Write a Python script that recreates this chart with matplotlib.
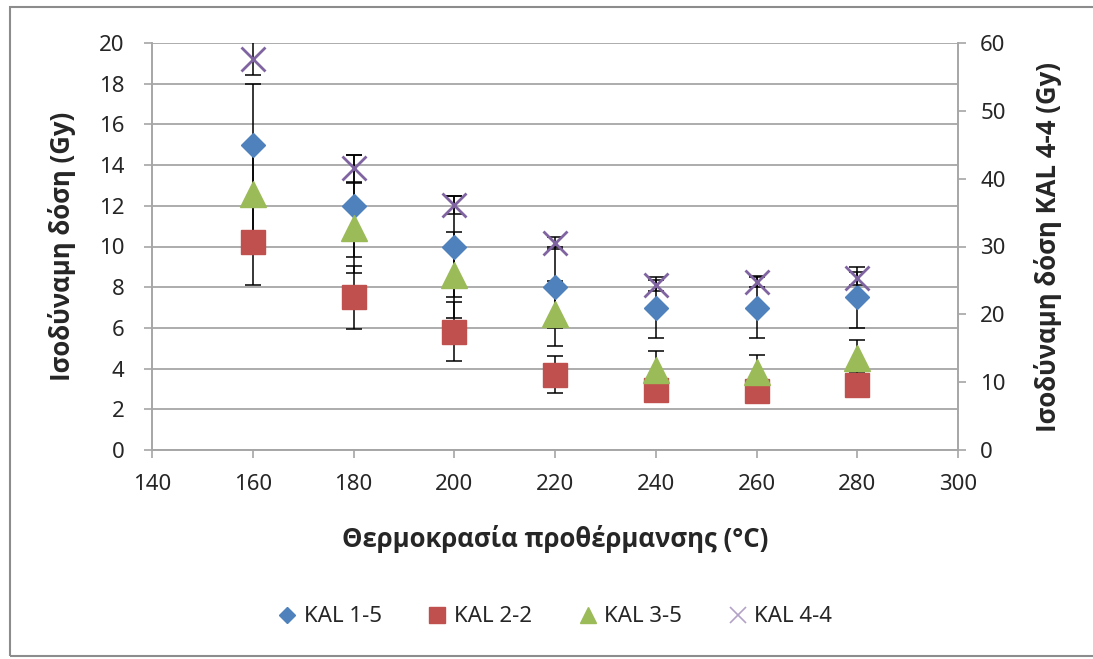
import matplotlib
matplotlib.use("Agg")
import matplotlib.pyplot as plt
from matplotlib.patches import Rectangle
from matplotlib.lines import Line2D

plt.rcParams['font.family'] = ['Noto Sans', 'DejaVu Sans']

# -------------------------------------------------------- #
temps = [160, 180, 200, 220, 240, 260, 280]

kal15 = [15.0, 12.0, 10.0, 8.0, 7.0, 7.0, 7.5]
err15 = [3.0, 2.5, 2.5, 2.0, 1.5, 1.5, 1.5]

kal22 = [10.2, 7.5, 5.8, 3.7, 2.95, 2.9, 3.2]
err22 = [2.1, 1.55, 1.45, 0.9, 0.58, 0.55, 0.62]

kal35 = [12.6, 10.9, 8.6, 6.7, 3.95, 3.85, 4.5]
err35 = [2.2, 2.2, 2.1, 1.6, 0.93, 0.82, 0.9]

kal44 = [57.7, 41.5, 36.1, 30.5, 24.3, 24.8, 25.3]  # right axis
err44 = [2.4, 2.0, 1.3, 0.9, 0.8, 0.8, 1.0]

names = ["KAL 1-5", "KAL 2-2", "KAL 3-5", "KAL 4-4"]
xticks = [140, 160, 180, 200, 220, 240, 260, 280, 300]
yticks_left = [0, 2, 4, 6, 8, 10, 12, 14, 16, 18, 20]
yticks_right = [0, 10, 20, 30, 40, 50, 60]
# -------------------------------------------------------- #

blue = "#4F81BD"
red = "#C0504D"
green = "#9BBB59"
purple = "#8064A2"
grey = "#A6A6A6"
txt = "#262626"
bold_font = ['Open Sans', 'Liberation Sans', 'DejaVu Sans']

W, H = 1093, 659
fig = plt.figure(figsize=(W / 100, H / 100), dpi=100)

# chart area border
fig.patches.append(Rectangle((10 / W, 3 / H), 1.2, (H - 10) / H, transform=fig.transFigure,
                             fill=False, edgecolor="#8C8C8C", linewidth=1.5, zorder=0))

ax = fig.add_axes([152 / W, 1 - 450 / H, (958 - 152) / W, (450 - 43) / H])
ax2 = ax.twinx()

eb = dict(fmt="none", ecolor="black", elinewidth=1.1, capsize=5.5, capthick=1.1, zorder=2)
ax.errorbar(temps, kal15, yerr=err15, **eb)
ax.errorbar(temps, kal22, yerr=err22, **eb)
ax.errorbar(temps, kal35, yerr=err35, **eb)

ax.plot(temps, kal15, linestyle="none", marker="D", ms=12.5, color=blue, mec=blue, zorder=3)
ax.plot(temps, kal22, linestyle="none", marker="s", ms=17, color=red, mec=red, zorder=3)
ax.plot(temps, kal35, linestyle="none", marker="^", ms=18.5, color=green, mec=green, zorder=3)

ax2.errorbar(temps, kal44, yerr=err44, **eb)
ax2.plot(temps, kal44, linestyle="none", marker="x", ms=17, mew=2, color=purple, zorder=3)

ax.set_xlim(140, 300)
ax.set_ylim(0, 20)
ax2.set_ylim(0, 60)
ax.set_xticks(xticks)
ax.set_yticks(yticks_left)
ax2.set_yticks(yticks_right)

ax.grid(axis="y", color=grey, linewidth=1.3)
ax.set_axisbelow(True)

for a in (ax, ax2):
    a.spines["top"].set_visible(False)
    for s in ("left", "right", "bottom"):
        a.spines[s].set_color(grey)
        a.spines[s].set_linewidth(1.2)
    a.tick_params(colors=grey, labelcolor=txt, labelsize=16, length=6, width=1.2)

ax.tick_params(axis="y", pad=14)
ax.tick_params(axis="x", pad=11)
ax2.tick_params(axis="y", pad=10)

ax.set_ylabel("Ισοδύναμη δόση (Gy)", fontsize=18.5, fontweight="bold", family=bold_font,
              color=txt, labelpad=16)
ax2.set_ylabel("Ισοδύναμη δόση KAL 4-4 (Gy)", fontsize=18.5, fontweight="bold", family=bold_font,
               color=txt, labelpad=20)
ax.set_xlabel("Θερμοκρασία προθέρμανσης (°C)", fontsize=18.5, fontweight="bold", family=bold_font,
              color=txt, labelpad=22)

handles = [
    Line2D([], [], linestyle="none", marker="D", ms=8, color=blue),
    Line2D([], [], linestyle="none", marker="s", ms=11, color=red),
    Line2D([], [], linestyle="none", marker="^", ms=12, color=green),
    Line2D([], [], linestyle="none", marker="x", ms=12, mew=1.2, color="#B3A2C7"),
]
fig.legend(handles, names, loc="center", bbox_to_anchor=(0.508, 1 - 617 / H), ncol=4,
           frameon=False, fontsize=16, handlelength=0.8, handletextpad=0.35, columnspacing=2.1,
           labelcolor=txt)

fig.savefig("out.png", dpi=100)
